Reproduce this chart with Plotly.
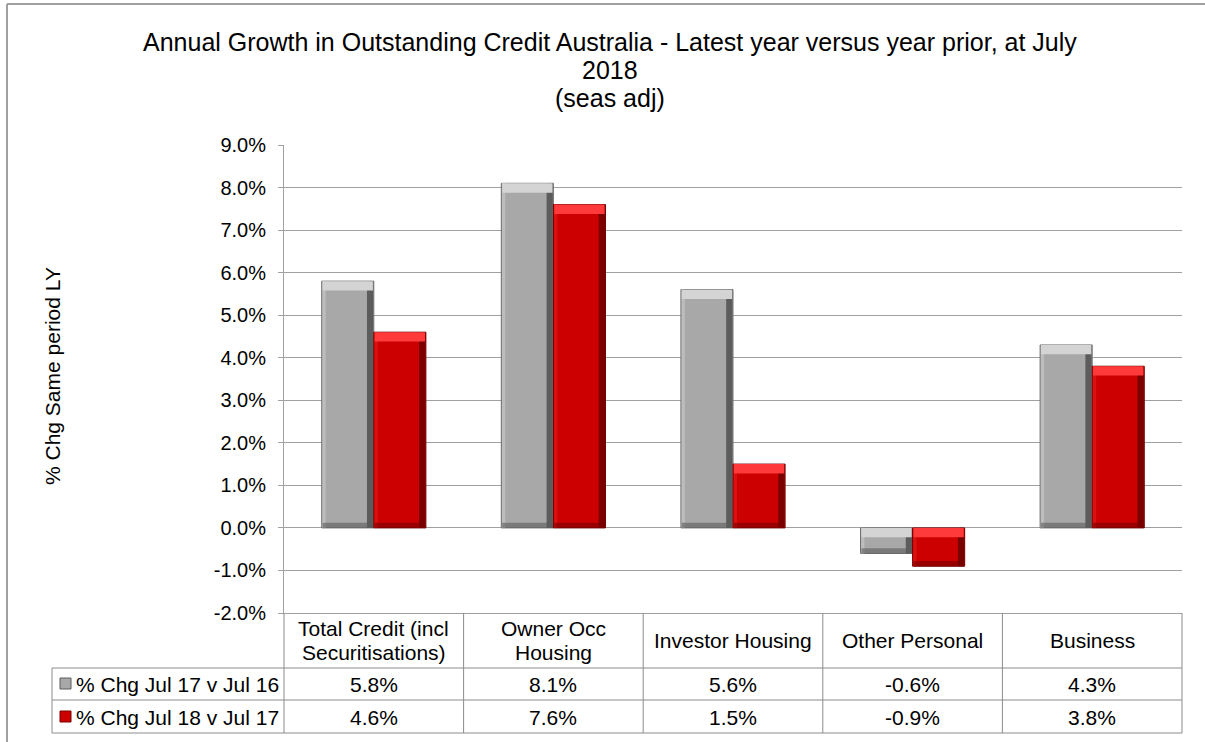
import plotly.graph_objects as go

# ---------------- data ----------------
categories = ["Total Credit (incl<br>Securitisations)", "Owner Occ<br>Housing",
              "Investor Housing", "Other Personal", "Business"]
series_names = ["% Chg Jul 17 v Jul 16", "% Chg Jul 18 v Jul 17"]
chg_jul17 = [5.8, 8.1, 5.6, -0.6, 4.3]
chg_jul18 = [4.6, 7.6, 1.5, -0.9, 3.8]
y_ticks = [-2, -1, 0, 1, 2, 3, 4, 5, 6, 7, 8, 9]
title_lines = ["Annual Growth in Outstanding Credit Australia - Latest year versus year prior, at July",
               "2018", "(seas adj)"]
y_title = "% Chg Same period LY"

# ---------------- geometry helpers ----------------
W, H = 1205, 742
L, R, T, B = 284, 1182, 145, 613


def px(xp):
    return (xp - L) / (R - L)


def py(yp):
    return (B - yp) / (B - T)


FONT = "Liberation Sans, Arial, sans-serif"
GRID = "#a0a0a0"
TABLE = "#8c8c8c"
FS = 21

styles = [
    dict(base="#a8a8a8", light="#d4d4d4", dark="#5c5c5c", edge="#6e6e6e", left="#bdbdbd"),
    dict(base="#cc0000", light="#ff3a3a", dark="#7a0000", edge="#700000", left="#dd1010"),
]
offsets = [-0.145, 0.145]
BW = 0.29
SHADOW_W = 0.035
LEFT_W = 0.018
CAP = 0.22
FOOT = 0.12

fig = go.Figure()
for s, vals in enumerate([chg_jul17, chg_jul18]):
    st = styles[s]
    xs = [i + offsets[s] for i in range(len(vals))]
    upper = [max(v, 0) for v in vals]
    lower = [min(v, 0) for v in vals]
    # main body
    fig.add_trace(go.Bar(x=xs, y=vals, width=BW, marker=dict(color=st["base"],
                  line=dict(color=st["edge"], width=1)), showlegend=False, name=series_names[s]))
    # left highlight
    fig.add_trace(go.Bar(x=[x - BW / 2 + LEFT_W / 2 + 0.004 for x in xs], y=vals, width=LEFT_W,
                         marker=dict(color=st["left"], line=dict(width=0)), showlegend=False))
    # right shadow
    fig.add_trace(go.Bar(x=[x + BW / 2 - SHADOW_W / 2 - 0.003 for x in xs], y=vals, width=SHADOW_W,
                         marker=dict(color=st["dark"], line=dict(width=0)), showlegend=False))
    # light bevel on upper edge
    fig.add_trace(go.Bar(x=xs, y=[CAP] * len(vals), base=[u - CAP for u in upper], width=BW - 0.01,
                         marker=dict(color=st["light"], line=dict(width=0)), showlegend=False))
    # dark bevel on lower edge
    fig.add_trace(go.Bar(x=xs, y=[FOOT] * len(vals), base=lower, width=BW - 0.01,
                         marker=dict(color=st["dark"], line=dict(width=0)), opacity=0.6,
                         showlegend=False))

fig.update_layout(
    width=W, height=H,
    margin=dict(l=L, r=W - R, t=T, b=H - B),
    barmode="overlay",
    plot_bgcolor="white", paper_bgcolor="white",
    font=dict(family=FONT, color="black", size=FS),
    xaxis=dict(range=[-0.5, 4.5], showticklabels=False, showgrid=False, zeroline=False,
               showline=True, linecolor=GRID, linewidth=1, ticks=""),
    yaxis=dict(range=[-2, 9], tickvals=y_ticks, ticktext=[f"{v:.1f}%" for v in y_ticks],
               showgrid=True, gridcolor=GRID, gridwidth=1, zeroline=False,
               showline=True, linecolor=GRID, linewidth=1, ticks="outside", ticklen=5,
               tickcolor=GRID, tickfont=dict(size=20, family=FONT), ticklabelstandoff=8),
)

shapes = []
row_tops = [py(668), py(700), py(733)]
x_left_hdr = px(52)
for k in range(len(categories) + 1):
    xk = k / len(categories)
    shapes.append(dict(type="line", xref="paper", yref="paper", x0=xk, x1=xk, y0=0, y1=row_tops[2],
                       line=dict(color=TABLE, width=1)))
for yk in row_tops:
    shapes.append(dict(type="line", xref="paper", yref="paper", x0=x_left_hdr, x1=1, y0=yk, y1=yk,
                       line=dict(color=TABLE, width=1)))
shapes.append(dict(type="line", xref="paper", yref="paper", x0=x_left_hdr, x1=x_left_hdr,
                   y0=row_tops[0], y1=row_tops[2], line=dict(color=TABLE, width=1)))
for s, yc in enumerate([684, 717]):
    shapes.append(dict(type="rect", xref="paper", yref="paper", x0=px(60), x1=px(71),
                       y0=py(yc + 5), y1=py(yc - 6), fillcolor=styles[s]["base"],
                       line=dict(color=styles[s]["dark"], width=1)))
shapes.append(dict(type="line", xref="paper", yref="paper", x0=px(7), x1=px(W + 5), y0=py(4), y1=py(4),
                   line=dict(color="#a0a0a0", width=2)))
shapes.append(dict(type="line", xref="paper", yref="paper", x0=px(7), x1=px(7), y0=py(4), y1=py(H + 5),
                   line=dict(color="#a0a0a0", width=2)))
fig.update_layout(shapes=shapes)

annotations = []
for k, t in enumerate(title_lines):
    annotations.append(dict(x=px(610), y=py(42 + 28 * k), xref="paper", yref="paper", text=t,
                            showarrow=False, font=dict(size=25, family=FONT),
                            xanchor="center", yanchor="middle"))
annotations.append(dict(x=px(52), y=py(376), xref="paper", yref="paper", text=y_title, textangle=-90,
                        showarrow=False, font=dict(size=FS, family=FONT),
                        xanchor="center", yanchor="middle"))
for i, c in enumerate(categories):
    lines = c.split("<br>")
    ys = [640] if len(lines) == 1 else [628, 652]
    for line, yl in zip(lines, ys):
        annotations.append(dict(x=(i + 0.5) / len(categories), y=py(yl), xref="paper", yref="paper",
                                text=line, showarrow=False, font=dict(size=FS, family=FONT),
                                xanchor="center", yanchor="middle"))
for s, (vals, yc) in enumerate([(chg_jul17, 684), (chg_jul18, 717)]):
    annotations.append(dict(x=px(74), y=py(yc), xref="paper", yref="paper", text=series_names[s],
                            showarrow=False, font=dict(size=FS, family=FONT),
                            xanchor="left", yanchor="middle"))
    for i, v in enumerate(vals):
        annotations.append(dict(x=(i + 0.5) / len(categories), y=py(yc), xref="paper", yref="paper",
                                text=f"{v:.1f}%", showarrow=False, font=dict(size=FS, family=FONT),
                                xanchor="center", yanchor="middle"))
fig.update_layout(annotations=annotations)

fig.write_html("out.html")
